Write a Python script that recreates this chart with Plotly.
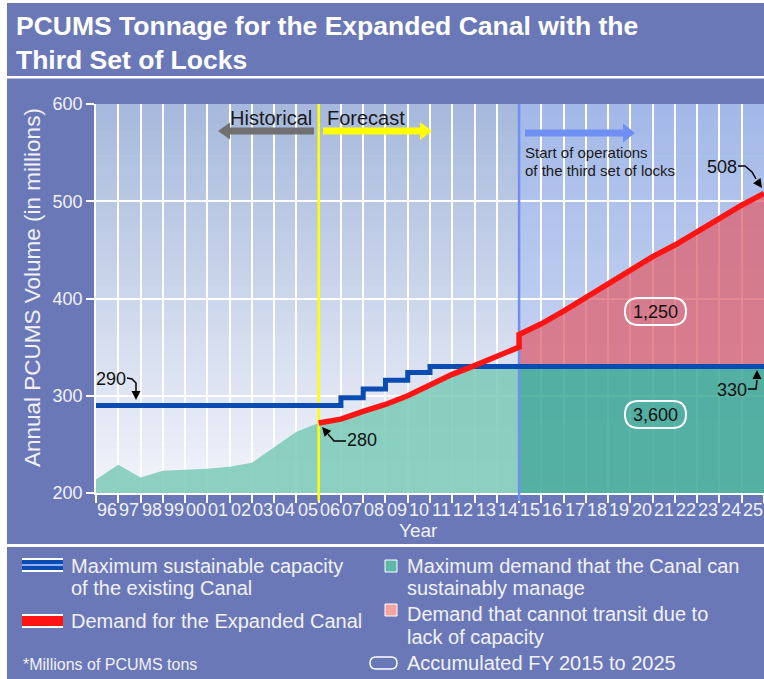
import numpy as np
import plotly.graph_objects as go

# values (millions of PCUMS tons)
hist_years = [1996, 1997, 1998, 1999, 2000, 2001, 2002, 2003, 2004, 2005]
hist_volume = [214, 229, 216, 223, 224, 225, 227, 231, 247, 263]

demand_years = [2006, 2007, 2008, 2009, 2010, 2011, 2012, 2013, 2014, 2015,
                2015, 2016, 2017, 2018, 2019, 2020, 2021, 2022, 2023, 2024, 2025, 2026]
demand = [272, 276, 284, 291, 300, 311, 322, 331, 341, 350,
          363, 374, 387, 401, 414, 428, 443, 455, 469, 483, 496, 508]

capacity_years = [1996, 2007, 2008, 2009, 2010, 2011, 2026]
capacity = [290, 298, 307, 316, 324, 330, 330]

year_labels = ['96', '97', '98', '99', '00', '01', '02', '03', '04', '05',
               '06', '07', '08', '09', '10', '11', '12', '13', '14', '15',
               '16', '17', '18', '19', '20', '21', '22', '23', '24', '25']
y_ticks = [200, 300, 400, 500, 600]

forecast_start = 2006
locks_start = 2015
callouts = ['290', '280', '330', '508']
accumulated = ['1,250', '3,600']

# ---- derived series ----
n_pre = demand_years.index(locks_start) + 1
pre_x, pre_d = demand_years[:n_pre], demand[:n_pre]
post_x, post_d = demand_years[n_pre:], demand[n_pre:]


def cap_at(yr):
    return capacity[np.searchsorted(capacity_years, yr, side='right') - 1]


teal_x = hist_years + pre_x
teal_y = hist_volume + [min(d, cap_at(x)) for x, d in zip(pre_x, pre_d)]
cap_end = capacity[-1]
pink_x = post_x + [post_x[-1], post_x[0]]
pink_y = post_d + [cap_end, cap_end]
x_range = [hist_years[0], demand_years[-1]]
y_range = [y_ticks[0], y_ticks[-1]]
year_starts = list(range(x_range[0], x_range[1] + 1))

# ---- pixel helpers (figure is 764 x 679) ----
W, H = 764, 679
L, R, T, B = 96, 764, 104, 493


def px(x):
    return (x - L) / (R - L)


def py(y):
    return (B - y) / (B - T)


def path(points, close=True):
    s = 'M ' + ' L '.join(f'{px(x):.5f},{py(y):.5f}' for x, y in points)
    return s + (' Z' if close else '')


def pill(x0, y0, x1, y1):
    r = (y1 - y0) / 2
    ym = (y0 + y1) / 2
    P = lambda x, y: f'{px(x):.5f},{py(y):.5f}'
    return (f'M {P(x0 + r, y0)} L {P(x1 - r, y0)} Q {P(x1, y0)} {P(x1, ym)} '
            f'Q {P(x1, y1)} {P(x1 - r, y1)} L {P(x0 + r, y1)} '
            f'Q {P(x0, y1)} {P(x0, ym)} Q {P(x0, y0)} {P(x0 + r, y0)} Z')


def hexrgb(c):
    c = c.lstrip('#')
    return [int(c[i:i + 2], 16) for i in (0, 2, 4)]


shapes = []


def gradient(x0, x1, bottom, top, n=60):
    b, t = np.array(hexrgb(bottom)), np.array(hexrgb(top))
    for i in range(n):
        f = (i + 0.5) / n
        c = (b + (t - b) * f).round().astype(int)
        shapes.append(dict(type='rect', xref='x', yref='y', layer='below',
                           x0=x0, x1=x1,
                           y0=y_range[0] + (y_range[1] - y_range[0]) * i / n,
                           y1=y_range[0] + (y_range[1] - y_range[0]) * (i + 1) / n + 0.5,
                           fillcolor=f'rgb({c[0]},{c[1]},{c[2]})', line_width=0))


gradient(x_range[0], locks_start, '#f3f5fb', '#a6b8dc')
gradient(locks_start, x_range[1], '#d6e0f6', '#a3b8e8')


def rect(x0, y0, x1, y1, fill, line=None, lw=0):
    shapes.append(dict(type='rect', xref='paper', yref='paper',
                       x0=px(x0), x1=px(x1), y0=py(y1), y1=py(y0),
                       fillcolor=fill, line=dict(color=line or fill, width=lw)))


def poly(points, fill):
    shapes.append(dict(type='path', xref='paper', yref='paper', path=path(points),
                       fillcolor=fill, line=dict(width=0), layer='above'))


def polyline(points, color='black', width=1.5):
    shapes.append(dict(type='path', xref='paper', yref='paper', path=path(points, False),
                       line=dict(color=color, width=width), layer='above'))


def head(tip, frm, length=9, half=4.5):
    d = np.array(tip, float) - np.array(frm, float)
    d /= np.linalg.norm(d)
    n = np.array([-d[1], d[0]])
    base = np.array(tip) - d * length
    poly([tuple(tip), tuple(base + n * half), tuple(base - n * half)], 'black')


# frame lines
rect(0, 0, 7, H, 'white')
rect(0, 0, W, 3, 'white')
rect(7, 76, W, 78.5, 'white')
rect(7, 544, W, 547, 'white')

# coloured ticks under the two vertical markers
for yr, col in [(forecast_start, '#ffff00'), (locks_start, '#6f8ff2')]:
    shapes.append(dict(type='line', xref='x', yref='paper', x0=yr, x1=yr,
                       y0=py(501), y1=0, line=dict(color=col, width=2.5)))

# banner arrows
poly([(218, 131), (230, 122.5), (230, 127.5), (314, 127.5), (314, 134.5), (230, 134.5), (230, 139.5)], '#707070')
poly([(432, 131), (420, 122), (420, 127.5), (323, 127.5), (323, 134.5), (420, 134.5), (420, 140)], '#ffff00')
poly([(635, 133), (623, 123.5), (623, 129.5), (525, 129.5), (525, 136.5), (623, 136.5), (623, 142.5)], '#6f8ff2')

# callout leaders
polyline([(127, 378), (132, 379), (136, 383), (136, 392)])
head((136, 400), (136, 391))
polyline([(346, 441), (334, 441), (328, 434)])
head((322, 427), (329, 435))
polyline([(748, 389), (756, 389), (757, 380)])
head((757, 370), (757, 380))
polyline([(738, 166), (745, 166), (752, 172), (756, 179)])
head((762, 188), (755, 178))

# accumulated pills
for box in [(625, 298, 686, 325), (625, 401, 686, 428)]:
    shapes.append(dict(type='path', xref='paper', yref='paper', path=pill(*box),
                       line=dict(color='white', width=2), layer='above'))

# legend icons
rect(22, 558, 63, 572, 'white')
rect(22, 560, 63, 570, '#0b4cb3')
rect(22, 564, 63, 566, '#8fb0ff')
rect(22, 614, 63, 628, 'white')
rect(22, 616, 63, 626, '#ff1414')
rect(385, 560, 397, 572, '#5db8a6', 'white', 1)
rect(385, 604, 397, 616, '#f4a3a3', 'white', 1)
shapes.append(dict(type='path', xref='paper', yref='paper', path=pill(370, 657, 397, 669),
                   line=dict(color='white', width=1.5)))

# ---- annotations ----
FONT = 'Liberation Sans, Arial, sans-serif'
LIGHT = '#f1f2f8'
annotations = []


def text(x, y, s, size, color=LIGHT, xanchor='left', yanchor='middle', angle=0):
    annotations.append(dict(x=px(x), y=py(y), xref='paper', yref='paper', text=s,
                            showarrow=False, xanchor=xanchor, yanchor=yanchor,
                            textangle=angle, font=dict(family=FONT, size=size, color=color)))


# year labels sit in the middle of each fiscal-year band
for yr, lab in zip(year_starts, year_labels):
    annotations.append(dict(x=yr + 0.5, y=py(510), xref='x', yref='paper', text=lab,
                            showarrow=False, xanchor='center', yanchor='middle',
                            font=dict(family=FONT, size=18, color=LIGHT)))

annotations.append(dict(x=px(14), y=py(9), xref='paper', yref='paper', xanchor='left',
                        yanchor='top', align='left', showarrow=False,
                        text='<b>PCUMS Tonnage for the Expanded Canal with the<br>Third Set of Locks</b>',
                        font=dict(family=FONT, size=26.5, color='white')))
text(32, 288, 'Annual PCUMS Volume (in millions)', 22.5, xanchor='center', angle=-90)
text(418, 530, 'Year', 19, xanchor='center')
text(271, 118, 'Historical', 20, '#1a1a1a', 'center')
text(325, 118, 'Forecast', 20, '#1a1a1a')
text(523, 152, 'Start of operations', 15, '#1a1a1a')
text(523, 170, 'of the third set of locks', 15, '#1a1a1a')
text(111, 379, callouts[0], 18, '#111111', 'center')
text(362, 440, callouts[1], 18, '#111111', 'center')
text(732, 390, callouts[2], 18, '#111111', 'center')
text(722, 167, callouts[3], 18, '#111111', 'center')
text(655.5, 312, accumulated[0], 18, '#111111', 'center')
text(655.5, 415, accumulated[1], 18, '#111111', 'center')

text(69, 566, 'Maximum sustainable capacity', 20)
text(69, 588, 'of the existing Canal', 20)
text(69, 621, 'Demand for the Expanded Canal', 20)
text(21, 664, '*Millions of PCUMS tons', 16)
text(405, 566, 'Maximum demand that the Canal can', 20)
text(405, 588, 'sustainably manage', 20)
text(405, 614, 'Demand that cannot transit due to', 20)
text(405, 637, 'lack of capacity', 20)
text(405, 663, 'Accumulated FY 2015 to 2025', 20)

# ---- traces ----
fig = go.Figure()
fig.add_trace(go.Scatter(x=teal_x, y=teal_y, mode='lines', line=dict(width=0),
                         fill='tozeroy', fillcolor='rgba(118,200,180,0.82)', hoverinfo='skip'))
fig.add_trace(go.Scatter(x=[locks_start, x_range[1]], y=[cap_end, cap_end], mode='lines',
                         line=dict(width=0), fill='tozeroy',
                         fillcolor='rgba(62,168,148,0.85)', hoverinfo='skip'))
fig.add_trace(go.Scatter(x=pink_x, y=pink_y, mode='lines', line=dict(width=0),
                         fill='toself', fillcolor='rgba(222,96,110,0.75)', hoverinfo='skip'))
fig.add_trace(go.Scatter(x=[forecast_start, forecast_start], y=y_range, mode='lines',
                         line=dict(color='#ffff00', width=2.5), hoverinfo='skip'))
fig.add_trace(go.Scatter(x=[locks_start, locks_start], y=y_range, mode='lines',
                         line=dict(color='#6f8ff2', width=2.5), hoverinfo='skip'))
fig.add_trace(go.Scatter(x=capacity_years, y=capacity, mode='lines', line_shape='hv',
                         line=dict(color='#0b4cb3', width=5),
                         name='Maximum sustainable capacity of the existing Canal'))
fig.add_trace(go.Scatter(x=demand_years, y=demand, mode='lines',
                         line=dict(color='#ff1414', width=5.5),
                         name='Demand for the Expanded Canal'))

fig.update_layout(
    width=W, height=H,
    margin=dict(l=L, r=W - R, t=T, b=H - B),
    paper_bgcolor='#6b78b8',
    plot_bgcolor='#d4dcef',
    showlegend=False,
    font=dict(family=FONT, color=LIGHT),
    shapes=shapes,
    annotations=annotations,
)
fig.update_xaxes(range=x_range, tickvals=year_starts, showticklabels=False,
                 ticks='outside', ticklen=8, tickwidth=1.5, tickcolor='white',
                 showgrid=True, gridcolor='white', gridwidth=1.5,
                 showline=True, linecolor='white', linewidth=1.5, zeroline=False)
fig.update_yaxes(range=y_range, tickvals=y_ticks,
                 ticks='outside', ticklen=8, tickwidth=1.5, tickcolor='white',
                 showgrid=True, gridcolor='white', gridwidth=1.5,
                 showline=True, linecolor='white', linewidth=1.5, zeroline=False,
                 tickfont=dict(size=18, color=LIGHT))

# page has no body margin so the figure fills the window exactly
fig.write_html("out.html", config={'displayModeBar': False},
               post_script="document.body.style.margin='0';document.body.style.overflow='hidden';")
